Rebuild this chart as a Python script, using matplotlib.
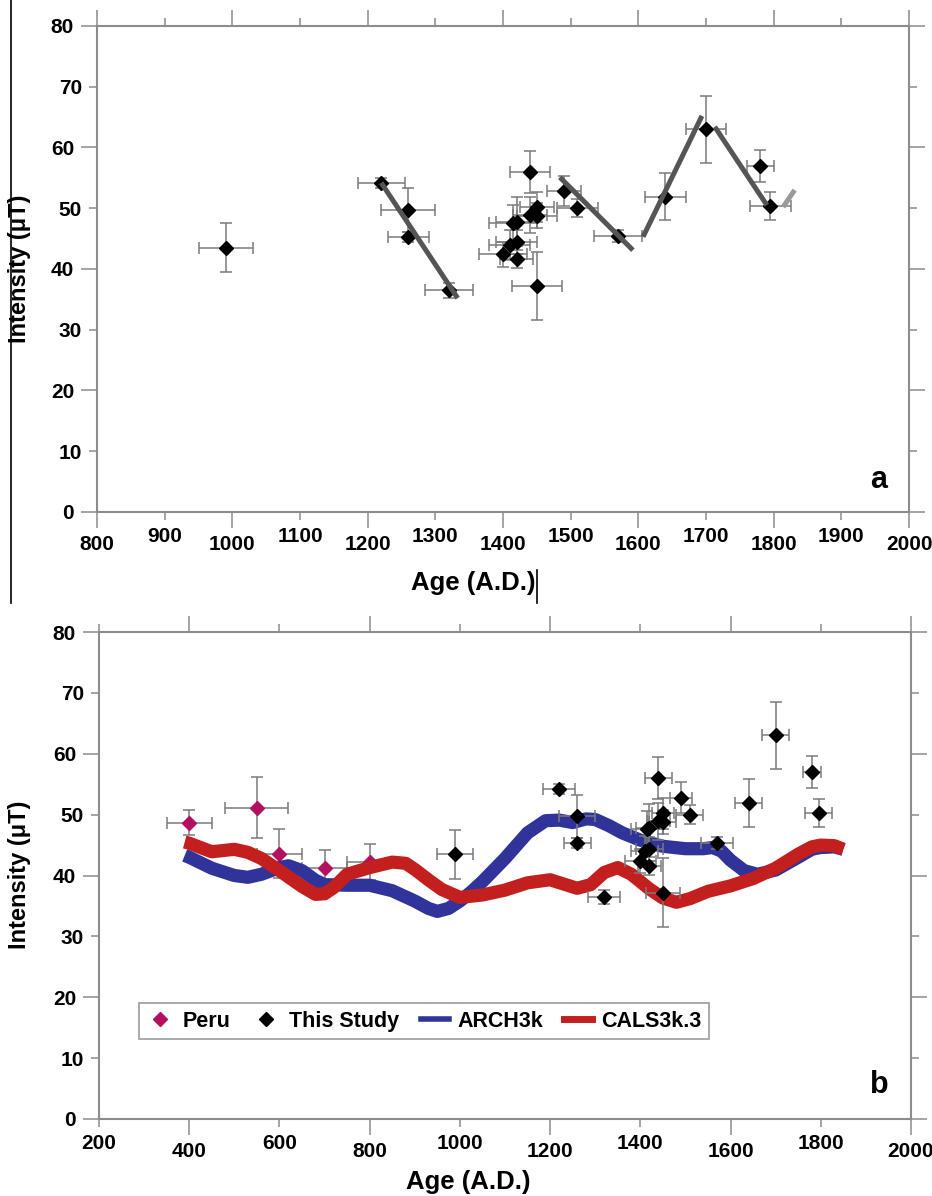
import matplotlib
matplotlib.use('Agg')
import matplotlib.pyplot as plt
from matplotlib.ticker import FixedLocator, MultipleLocator, FormatStrFormatter
from matplotlib.lines import Line2D

plt.rcParams['font.family'] = ['Liberation Sans', 'DejaVu Sans']
plt.rcParams['font.weight'] = 'bold'

# This study: archaeointensity data (age, intensity and errors)
study_age = [990, 1220, 1260, 1260, 1320, 1400, 1410, 1415, 1420, 1420, 1420, 1440,
             1440, 1450, 1450, 1450, 1490, 1510, 1570, 1640, 1700, 1780, 1795]
study_int = [43.5, 54.2, 49.7, 45.3, 36.5, 42.4, 44.0, 47.6, 47.8, 44.4, 41.6, 56.0,
             48.9, 50.2, 48.8, 37.2, 52.8, 50.0, 45.4, 51.9, 63.0, 57.0, 50.3]
study_age_err = [40, 35, 40, 30, 35, 35, 30, 35, 30, 30, 25, 30,
                 25, 25, 30, 37, 25, 30, 35, 30, 30, 20, 30]
study_int_err = [4.0, 0.8, 3.6, 0.8, 1.2, 2.0, 2.5, 3.0, 4.0, 2.0, 1.5, 3.5,
                 3.0, 2.5, 2.0, 5.6, 2.5, 1.5, 1.0, 3.9, 5.5, 2.6, 2.3]

# trend segments in panel a
trend_x = [[1220, 1333], [1484, 1592], [1607, 1694], [1713, 1790]]
trend_y = [[54.2, 35.2], [55.1, 43.1], [45.3, 65.2], [63.4, 50.5]]
trend_last_x = [1814, 1831]
trend_last_y = [50.2, 53.0]

# Peru data
peru_age = [400, 550, 600, 700, 800]
peru_int = [48.7, 51.1, 43.6, 41.2, 42.2]
peru_age_err = [50, 70, 50, 50, 50]
peru_int_err = [2.0, 5.0, 4.0, 3.0, 3.0]

# field models
arch_age = [390, 400, 450, 500, 530, 560, 600, 620, 650, 680, 700, 750, 800, 850, 900,
            930, 950, 975, 1000, 1025, 1050, 1100, 1150, 1190, 1220, 1250, 1280, 1300,
            1330, 1360, 1400, 1450, 1500, 1540, 1560, 1580, 1600, 1630, 1660, 1700,
            1750, 1780, 1800, 1830, 1850]
arch_int = [43.3, 43.0, 41.2, 40.0, 39.7, 40.2, 41.3, 41.6, 40.8, 39.2, 38.5, 38.4, 38.4,
            37.5, 35.8, 34.6, 34.1, 34.6, 35.8, 37.3, 39.0, 42.8, 47.0, 49.0, 49.1, 48.7,
            49.3, 49.2, 48.2, 47.0, 45.8, 44.8, 44.4, 44.4, 44.6, 44.0, 42.5, 40.8, 40.2,
            40.9, 43.0, 44.3, 44.6, 44.7, 44.3]

cals_age = [390, 400, 450, 500, 530, 560, 600, 650, 680, 700, 720, 750, 800, 850, 880,
            900, 930, 960, 1000, 1050, 1100, 1150, 1200, 1230, 1260, 1290, 1320, 1350,
            1380, 1420, 1450, 1480, 1510, 1550, 1600, 1650, 1700, 1750, 1780, 1800,
            1830, 1850]
cals_int = [45.5, 45.3, 43.9, 44.3, 43.8, 42.8, 40.8, 38.2, 36.9, 37.0, 38.0, 40.2, 41.3,
            42.2, 42.0, 41.0, 39.3, 37.7, 36.4, 36.8, 37.6, 38.8, 39.3, 38.6, 37.9, 38.5,
            40.5, 41.3, 40.2, 37.8, 36.3, 35.6, 36.2, 37.4, 38.3, 39.5, 41.2, 43.5, 44.7,
            45.0, 44.9, 44.3]

GRAY = '#8c8c8c'
ERR = '#7a7a7a'
PERU_C = '#b3115f'
ARCH_C = '#30339a'
CALS_C = '#c41f1f'


def style_axes(ax, major_x, minor_x, xlim):
    ax.set_xlim(*xlim)
    ax.set_ylim(0, 80)
    ax.xaxis.set_major_locator(FixedLocator(major_x))
    ax.xaxis.set_minor_locator(FixedLocator(minor_x))
    ax.xaxis.set_major_formatter(FormatStrFormatter('%d'))
    ax.xaxis.set_minor_formatter(FormatStrFormatter('%d'))
    ax.yaxis.set_major_locator(MultipleLocator(20))
    ax.yaxis.set_minor_locator(MultipleLocator(10))
    ax.yaxis.set_major_formatter(FormatStrFormatter('%d'))
    ax.yaxis.set_minor_formatter(FormatStrFormatter('%d'))
    ax.tick_params(which='both', direction='out', top=True, right=True, color=GRAY,
                   width=1.1, labelsize=15, pad=5)
    ax.tick_params(which='major', length=11.5)
    ax.tick_params(which='minor', length=5.8)
    for s in ax.spines.values():
        s.set_color(GRAY)
        s.set_linewidth(1.5)


fig = plt.figure(figsize=(9.32, 11.96), dpi=100)

# ---- panel a
ax1 = fig.add_axes([97 / 932, 1 - 512 / 1196, 812 / 932, 486 / 1196])
style_axes(ax1, [800, 1000, 1200, 1400, 1600, 1800, 2000],
           [900, 1100, 1300, 1500, 1700, 1900], (800, 2000))
ax1.errorbar(study_age, study_int, xerr=study_age_err, yerr=study_int_err, fmt='D',
             color='black', ms=7, ecolor=ERR, elinewidth=1.1, capsize=4.5,
             capthick=1.1, zorder=3)
for tx, ty in zip(trend_x, trend_y):
    ax1.plot(tx, ty, color='#555555', lw=3.6, solid_capstyle='butt', zorder=4)
ax1.plot(trend_last_x, trend_last_y, color='#9a9a9a', lw=3.6, solid_capstyle='butt', zorder=4)
ax1.text(0.963, 0.066, 'a', transform=ax1.transAxes, ha='center', va='center', fontsize=22)

# ---- panel b
ax2 = fig.add_axes([99 / 932, 1 - 1119 / 1196, 812 / 932, 487 / 1196])
style_axes(ax2, [400, 800, 1200, 1600, 2000], [200, 600, 1000, 1400, 1800], (200, 2000))
ax2.errorbar(peru_age, peru_int, xerr=peru_age_err, yerr=peru_int_err, fmt='D',
             color=PERU_C, ms=7, ecolor=ERR, elinewidth=1.1, capsize=4.5,
             capthick=1.1, zorder=2)
ax2.plot(arch_age, arch_int, color=ARCH_C, lw=9.5, solid_capstyle='butt',
         solid_joinstyle='round', zorder=3)
ax2.plot(cals_age, cals_int, color=CALS_C, lw=9.5, solid_capstyle='butt',
         solid_joinstyle='round', zorder=4)
ax2.errorbar(study_age, study_int, xerr=study_age_err, yerr=study_int_err, fmt='D',
             color='black', ms=7, ecolor=ERR, elinewidth=1.1, capsize=4.5,
             capthick=1.1, zorder=5)
ax2.text(0.961, 0.07, 'b', transform=ax2.transAxes, ha='center', va='center', fontsize=22)

handles = [
    Line2D([], [], marker='D', color=PERU_C, ls='none', ms=7.5),
    Line2D([], [], marker='D', color='black', ls='none', ms=7.5),
    Line2D([], [], color=ARCH_C, lw=4),
    Line2D([], [], color=CALS_C, lw=5),
]
leg = ax2.legend(handles, ['Peru', 'This Study', 'ARCH3k', 'CALS3k.3'], ncol=4,
                 loc='upper left', bbox_to_anchor=(0.049, 0.238), borderaxespad=0,
                 fontsize=15.5, frameon=True, fancybox=False, handlelength=1.3,
                 handletextpad=0.4, columnspacing=1.0, borderpad=0.35)
leg.get_frame().set_edgecolor(GRAY)
leg.get_frame().set_linewidth(1.3)

# axis titles
for yc in (269, 875):
    fig.text(20 / 932, 1 - yc / 1196, 'Intensity (\u03bcT)', rotation=90,
             ha='center', va='center', fontsize=17)
fig.text(473 / 932, 1 - 583 / 1196, 'Age (A.D.)', ha='center', va='center', fontsize=18.5)
fig.text(468 / 932, 1 - 1182 / 1196, 'Age (A.D.)', ha='center', va='center', fontsize=18.5)

# border fragments from the original page
fig.add_artist(Line2D([11 / 932, 11 / 932], [1, 1 - 603 / 1196], color='black', lw=1.2))
fig.add_artist(Line2D([537 / 932, 537 / 932], [1 - 570 / 1196, 1 - 603 / 1196],
                      color='black', lw=1.2))

fig.savefig('out.png', dpi=100)
